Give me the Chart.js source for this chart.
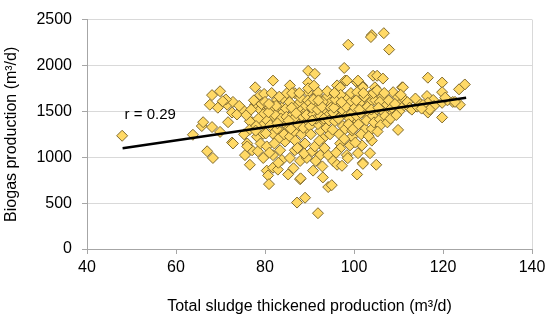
<!DOCTYPE html>
<html>
<head>
<meta charset="utf-8">
<script src="https://cdn.jsdelivr.net/npm/chart.js@4.4.0/dist/chart.umd.min.js"></script>
<style>
  body { margin: 0; background: #fff; }
</style>
</head>
<body>
<canvas id="biogasChart" width="550" height="320"></canvas>
<script>
// Total sludge thickened production (m3/d) vs biogas production (m3/d)
const sludgePoints = [
  [47.9,1234],[63.8,1245],[65.8,1340],[68.1,1329],[66.1,1382],[67,1065],[68.3,992],[69.9,1276],[71.7,1382],[72.6,1160],[72.8,1150],
  [68.1,1677],[69.9,1719],[67.6,1572],[69.4,1540],[71.5,1572],[72.6,1487],[72.8,1603],[73.7,1466],[75,1519],[71.2,1630],[74.2,1560],[70.5,1610],
  [76,1150],[77.1,1076],[75.5,1023],[76.6,918],[78.4,1065],[79.6,992],[76,1118],[78.2,1224],[77.1,1382],[76.6,1392],[77.8,1572],[77.8,1762],
  [78.9,1677],[78.9,1519],[79.6,1466],[79.6,1255],[79.6,1361],[76.5,1300],[75.8,1460],[77.5,1620],[78.5,1420],[79.2,1580],[76.9,1520],
  [78,1340],[79,1150],[75.3,1250],[77.9,1290],[79.8,1690],
  [80,1603],[80.4,854],[81.8,886],[80.7,802],[80.9,707],[82.9,865],[81.8,1023],[83.8,970],[80.4,1118],[83.4,1076],[84.5,1171],[81.8,1255],
  [83.8,1276],[82.7,1308],[85.2,1329],[81.8,1835],[81.1,1540],[82.7,1624],[83.4,1498],[81.8,1551],[83.8,1540],[81.8,1434],[84,1487],
  [84,1645],[84.9,1698],[85.2,812],[80.5,1400],[81.2,1350],[82.3,1460],[83,1200],[84.2,1380],[80.8,1490],[82.5,1560],[83.6,1420],
  [84.7,1530],[80.2,1260],[81.5,1700],[82.1,1150],[83.2,1660],[84.8,1440],[80.9,1580],[82.8,1370],[84.3,1250],[81,1050],[83,940],
  [85.6,1783],[86.7,1698],[86.1,1698],[87.4,1572],[85.6,992],[86.7,1076],[87.9,760],[87.9,960],[89.4,992],[89,1150],[87.2,506],[89,559],
  [88,770],[85.6,1224],[86.7,1276],[89,1287],[87.9,1361],[89.7,1941],[89.7,1814],[89.7,1709],[89.7,1751],[87.9,1603],[88.3,1519],
  [86.3,1466],[89,1487],[85.5,1600],[86.5,1420],[87.5,1350],[88.5,1440],[89.5,1390],[86,1540],[87,1480],[88,1650],[89.2,1560],
  [85.8,1310],[86.8,1180],[88.2,1250],[89.6,1620],[87.3,1100],[88.8,1040],[86.4,880],[85.3,1400],[87.7,1700],[88.6,1320],[89.3,1460],
  [91.2,1909],[90.6,1065],[91.2,1118],[90.8,854],[93,780],[94.2,675],[95,696],[91.9,390],[92.4,1023],[94.2,1023],[93,1203],[92.4,1287],
  [90.1,1340],[91.9,1361],[91.7,1677],[93.9,1656],[91.9,1709],[90.1,1593],[91.9,1572],[94.6,1593],[90.8,1466],[93,1498],[93,1603],
  [90.5,1540],[91.5,1420],[92.5,1450],[93.5,1380],[94.5,1470],[90.3,1250],[91.8,1520],[92.8,1550],[93.8,1320],[94.8,1540],[90.9,1630],
  [92.2,1180],[93.4,1100],[94.6,1250],[91.4,960],[92.9,900],[94,1720],[90.6,1400],[92,1620],[93.2,1420],[94.4,1400],[91,1780],
  [95.7,1392],[97.5,1340],[99.1,1382],[96.9,1150],[95.3,960],[96.2,918],[97.3,907],[96.9,1097],[99.1,1129],[98.4,1023],[98,1308],
  [99.6,1224],[96.2,1783],[98,1835],[97.8,1973],[98.7,2226],[96.9,1762],[98.4,1835],[99.1,1645],[96.9,1572],[99.8,1540],[95.3,1487],
  [96.4,1603],[98,1645],[99.1,1593],[97.3,1466],[95.5,1540],[96.5,1420],[97.5,1510],[98.5,1460],[99.5,1480],[95.8,1630],[97,1680],
  [98.2,1550],[99.3,1700],[95.2,1300],[96.7,1250],[97.8,1200],[99,1420],[96,1050],[98.6,990],[95.6,1700],[97.2,1600],[98.8,1360],[99.6,1290],
  [100.7,1814],[101.8,1783],[104,2331],[104.3,1888],[104.7,1762],[103.6,1603],[100.9,1392],[102.5,1308],[104,1308],[99.8,1308],
  [101.8,1129],[104,1181],[100.9,1044],[103.6,1044],[102,939],[105,918],[100.7,812],[102,928],[103.8,2310],[100.9,1835],[102,1762],
  [100.7,1709],[103.6,1677],[101.3,1593],[103.6,1593],[100.2,1540],[102.5,1519],[104.7,1498],[100.7,1445],[103.1,1434],[100.5,1620],
  [101.5,1480],[102.3,1660],[103,1550],[104.2,1450],[101,1360],[102.8,1400],[104.5,1380],[101.6,1250],[103.3,1230],[100.3,1160],
  [104.8,1620],[102.1,1700],[103.9,1520],[101.2,1520],[104.4,1700],
  [105.2,1888],[106.5,1857],[106.7,2352],[107.9,2173],[105.2,1730],[106.3,1656],[108.8,1709],[109.9,1656],[110.8,1762],[105.8,1603],
  [107.4,1572],[110.8,1603],[111,1551],[106.5,1498],[108.8,1487],[105.8,1414],[109.9,1298],[111,1762],[105.5,1540],[106,1350],
  [107,1450],[107.8,1620],[108.5,1540],[109.2,1580],[110.2,1500],[111.5,1620],[106.8,1700],[105.3,1280],[107.5,1380],[108.2,1420],
  [109.5,1460],[110.5,1680],[112,1600],[112.5,1540],
  [113,1519],[114.2,1551],[116.6,1867],[119.8,1814],[124.9,1793],[123.6,1740],[119.8,1709],[116.4,1667],[117.8,1624],[116.6,1593],
  [119.8,1593],[122.2,1603],[123.8,1572],[116.6,1487],[119.8,1434],[114.5,1600],[115.5,1570],[118,1560],[121,1620],[122.7,1603],
  [117,1520],[120.5,1650],[113.8,1640],[115.2,1530]
];

// linear trend line ends
const trendX = [48, 125.2];
const trendY = [1097, 1649];

const xTicks = [40, 60, 80, 100, 120, 140];
const yTicks = [0, 500, 1000, 1500, 2000, 2500];

const rLabel = 'r = 0.29';
const rLabelPos = { x: 54.2, y: 1466 };

const FONT = 'Liberation Sans, Arial, sans-serif';

// draws the "r = ..." text inside the plot
const rLabelPlugin = {
  id: 'rLabel',
  afterDatasetsDraw(chart) {
    const ctx = chart.ctx;
    const px = chart.scales.x.getPixelForValue(rLabelPos.x);
    const py = chart.scales.y.getPixelForValue(rLabelPos.y);
    ctx.save();
    ctx.font = '15px ' + FONT;
    ctx.fillStyle = '#000';
    ctx.textAlign = 'center';
    ctx.textBaseline = 'middle';
    ctx.fillText(rLabel, px, py);
    ctx.restore();
  }
};

const ctx = document.getElementById('biogasChart');

new Chart(ctx, {
  type: 'scatter',
  data: {
    datasets: [
      {
        label: 'Trend',
        data: trendX.map((x, i) => ({ x: x, y: trendY[i] })),
        showLine: true,
        borderColor: '#000',
        borderWidth: 2.5,
        pointRadius: 0,
        order: 0
      },
      {
        label: 'Biogas',
        data: sludgePoints.map(p => ({ x: p[0], y: p[1] })),
        pointStyle: 'rectRot',
        pointRadius: 5.5,
        pointBackgroundColor: '#FFD966',
        pointBorderColor: '#806A2E',
        pointBorderWidth: 1,
        order: 1
      }
    ]
  },
  options: {
    responsive: false,
    animation: false,
    layout: { padding: { top: 12, right: 18, left: 0, bottom: 0 } },
    plugins: {
      legend: { display: false },
      tooltip: { enabled: false }
    },
    scales: {
      x: {
        type: 'linear',
        min: 40,
        max: 140,
        afterBuildTicks: axis => { axis.ticks = xTicks.map(v => ({ value: v })); },
        afterFit: scale => { scale.height = 71; },
        grid: {
          color: c => (c.tick && c.tick.value === 140 ? '#D9D9D9' : 'rgba(0,0,0,0)'),
          tickColor: '#A6A6A6',
          tickLength: 5
        },
        border: { color: '#A6A6A6' },
        ticks: {
          color: '#000',
          padding: 4,
          font: { family: FONT, size: 16 },
          callback: v => String(v)
        },
        title: {
          display: true,
          text: 'Total sludge thickened production (m³/d)',
          color: '#000',
          padding: { top: 0, bottom: 4 },
          font: { family: FONT, size: 16 }
        }
      },
      y: {
        min: 0,
        max: 2500,
        afterBuildTicks: axis => { axis.ticks = yTicks.map(v => ({ value: v })); },
        afterFit: scale => { scale.width = 87; },
        grid: {
          color: '#D9D9D9',
          tickColor: '#A6A6A6',
          tickLength: 5
        },
        border: { color: '#A6A6A6' },
        ticks: {
          color: '#000',
          padding: 10,
          font: { family: FONT, size: 16 },
          callback: v => String(v)
        },
        title: {
          display: true,
          text: 'Biogas production (m³/d)',
          color: '#000',
          padding: { top: 2, bottom: 0 },
          font: { family: FONT, size: 16 }
        }
      }
    }
  },
  plugins: [rLabelPlugin]
});
</script>
</body>
</html>
